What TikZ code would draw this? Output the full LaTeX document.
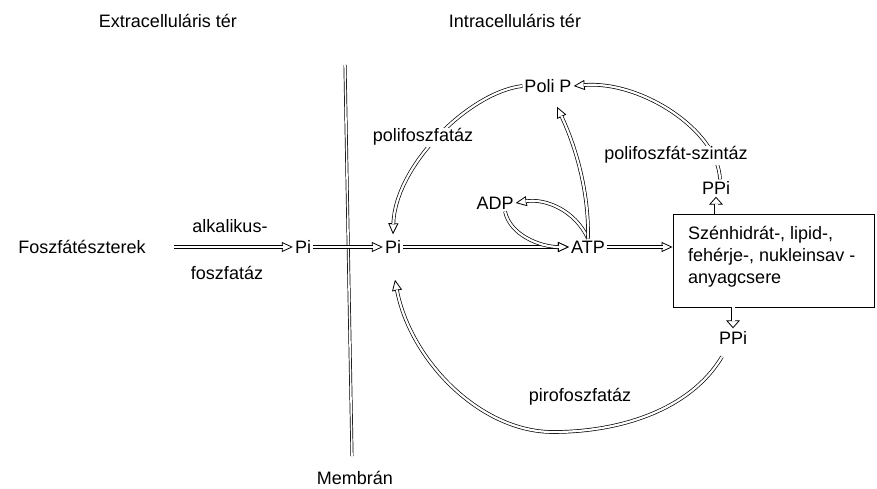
\documentclass[tikz,border=0pt]{standalone}
\usepackage{fontspec}
\setmainfont{Liberation Sans}
\usetikzlibrary{arrows.meta,calc}
\begin{document}
\begin{tikzpicture}[x=1pt,y=-1pt,
  every node/.style={font=\fontsize{18}{22}\selectfont, inner sep=2pt},
  arr/.style={draw, line width=0.7pt,
    -{Triangle[open, length=11pt, width=10pt, fill=white, line width=0.8pt]},
    postaction={draw, double=white, double distance=2.2pt, line width=0.7pt, shorten >=10pt, -}},
  sarr/.style={draw, line width=0.7pt,
    -{Triangle[open, length=8pt, width=14pt, fill=white, line width=0.8pt]},
    postaction={draw, double=white, double distance=3pt, line width=0.7pt, shorten >=7pt, -}},
  lbl/.style={fill=white, inner sep=1pt},
  memb/.style={draw, double=white, double distance=1.6pt, line width=0.7pt}]
\useasboundingbox (0,0) rectangle (877,488);
% membrane
\coordinate (memtop) at (345,65);
\coordinate (membot) at (352,456);
\draw[memb] (memtop) -- (membot);
% texts
\node (ext) at (168,21) {Extracelluláris tér};
\node (int) at (515,21) {Intracelluláris tér};
\node (memlbl) at (355,478) {Membrán};
\node (fe) at (82,247) {Foszfátészterek};
\node (alk) at (230,226) {alkalikus-};
\node (fos) at (227,273) {foszfatáz};
\node (pi1) at (303,247) {Pi};
\node (pi2) at (393,247) {Pi};
\node (atp) at (588,247) {ATP};
\node (adp) at (495,203) {ADP};
\node (poli) at (548,86) {Poli P};
\node[draw, line width=0.9pt, minimum width=201pt, minimum height=93pt, inner sep=0pt] (box) at (773.5,260.5) {};
\node[anchor=west, align=left, inner sep=0pt] (boxtext) at (688,257)
  {Szénhidrát-, lipid-,\\fehérje-, nukleinsav -\\anyagcsere};
\node (ppt) at (716,188) {PPi};
\node (ppb) at (733,338) {PPi};
% straight arrows
\draw[arr, shorten <=26pt] (fe.east) -- (pi1.west);
\draw[arr] (pi1.east) -- (pi2.west);
\draw[arr] (pi2.east) -- (atp.west);
\draw[arr] (atp.east) -- (atp.east -| box.west);
\draw[sarr] (box.north -| ppt) -- (ppt.south);
\draw[sarr] (box.south -| ppb) -- ($(ppb.north)+(0,-1)$);
% curved arrows
\draw[arr] ($(adp.south)+(10,0)$) .. controls (510,235) and (540,247) .. (atp.west);
\draw[arr] (atp.north) .. controls (575,210) and (545,198) .. (adp.east);
\draw[arr] (atp.north) .. controls (589,190) and (575,145) .. ($(poli.south)+(9,12)$);
\draw[arr] (poli.west) .. controls (470,92) and (395,165) .. ($(pi2.north)+(0,-4)$);
\draw[arr] ($(ppt.north)+(4,0)$) .. controls (718,130) and (640,80) .. (poli.east);
\draw[arr] ($(ppb.south)+(-11,10)$) .. controls (690,410) and (620,432) .. (553,432)
  .. controls (480,432) and (410,360) .. ($(pi2.south)+(2,24)$);
% labels over curves
\node[lbl] (pf) at (423,137) {polifoszfatáz};
\node[lbl] (pfs) at (676,155) {polifoszfát-szintáz};
\node (piro) at (580,397) {pirofoszfatáz};
\end{tikzpicture}
\end{document}
